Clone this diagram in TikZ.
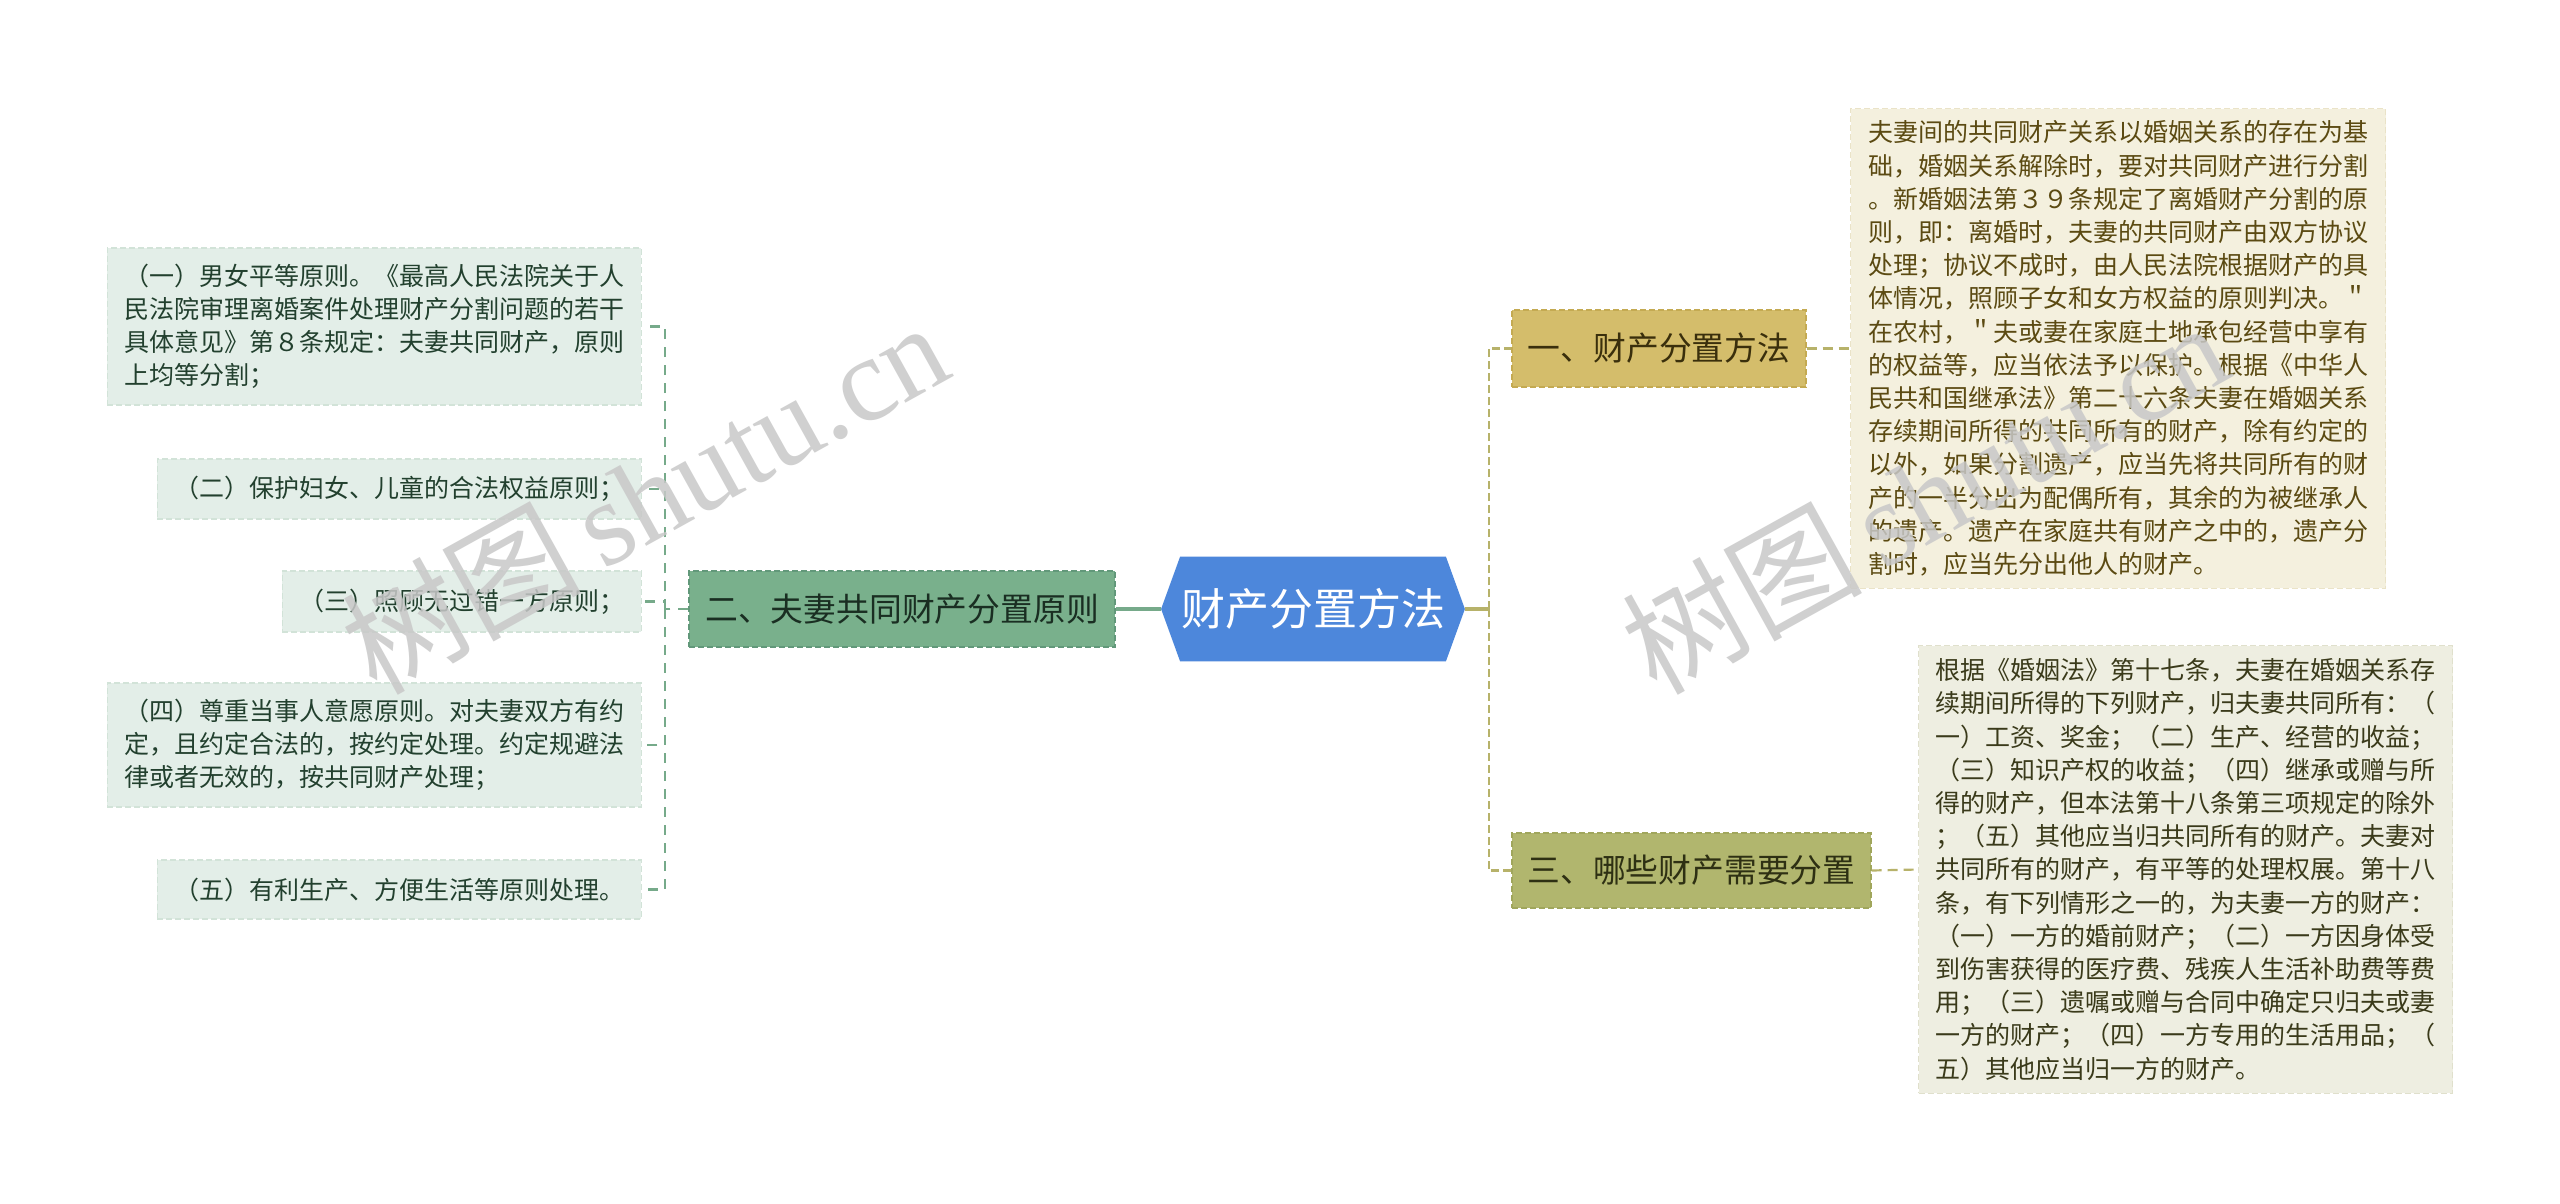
\documentclass[tikz,border=0pt]{standalone}
\usepackage{fontspec}
\setmainfont{Noto Sans CJK SC}
\newfontfamily\wmlatin{Liberation Serif}
\usetikzlibrary{calc}
\pgfdeclarelayer{bg}
\pgfsetlayers{bg,main}
\definecolor{rootfill}{HTML}{4D87DB}
\definecolor{gbfill}{HTML}{79B08C}
\definecolor{gbborder}{HTML}{62987A}
\definecolor{gbtext}{HTML}{1A2E22}
\definecolor{glfill}{HTML}{E3EEE8}
\definecolor{glborder}{HTML}{D2E3D8}
\definecolor{gltext}{HTML}{22402E}
\definecolor{gline}{HTML}{76AA8A}
\definecolor{yfill}{HTML}{D4BD6B}
\definecolor{yborder}{HTML}{C4AA52}
\definecolor{ytext}{HTML}{3A2F0C}
\definecolor{ofill}{HTML}{B1B66E}
\definecolor{oborder}{HTML}{A0A65C}
\definecolor{otext}{HTML}{2E3013}
\definecolor{rline}{HTML}{B7B26A}
\definecolor{lafill}{HTML}{F4F0DE}
\definecolor{laborder}{HTML}{EAE3C8}
\definecolor{latext}{HTML}{5B4A12}
\definecolor{lbfill}{HTML}{EEEEE1}
\definecolor{lbborder}{HTML}{E0E0CC}
\definecolor{lbtext}{HTML}{3A3A1A}
\definecolor{wmgray}{HTML}{C8C8C8}
\begin{document}
\begin{tikzpicture}[x=0.5pt,y=-0.5pt,
  leaffont/.style={font=\fontsize{12.5pt}{16.6pt}\selectfont},
  branchfont/.style={font=\fontsize{16.4pt}{19pt}\selectfont},
  gleaf/.style={leaffont, draw=glborder, fill=glfill, text=gltext,
    dash pattern=on 3pt off 1.5pt, line width=0.6pt,
    align=left, inner xsep=8.5pt, inner ysep=8pt, anchor=east},
  gbranch/.style={branchfont, draw=gbborder, fill=gbfill, text=gbtext,
    dash pattern=on 3pt off 1.5pt, line width=0.7pt, inner sep=0pt},
  ybranch/.style={branchfont, draw=yborder, fill=yfill, text=ytext,
    dash pattern=on 3pt off 1.5pt, line width=0.7pt, inner sep=0pt},
  obranch/.style={branchfont, draw=oborder, fill=ofill, text=otext,
    dash pattern=on 3pt off 1.5pt, line width=0.7pt, inner sep=0pt},
  aleaf/.style={leaffont, draw=laborder, fill=lafill, text=latext,
    dash pattern=on 3pt off 1.5pt, line width=0.6pt,
    align=left, inner xsep=8.75pt, inner ysep=6pt, anchor=west},
  bleaf/.style={leaffont, draw=lbborder, fill=lbfill, text=lbtext,
    dash pattern=on 3pt off 1.5pt, line width=0.6pt,
    align=left, inner xsep=8.5pt, inner ysep=6.5pt, anchor=west},
  gsolid/.style={draw=gline, line width=1.6pt},
  gdash/.style={draw=gline, line width=1.1pt, dash pattern=on 5pt off 4pt},
  rsolid/.style={draw=rline, line width=1.6pt},
  rdash/.style={draw=rline, line width=1.3pt, dash pattern=on 4pt off 2pt},
  rdashlong/.style={draw=rline, line width=1.1pt, dash pattern=on 5pt off 3pt},
  wm/.style={text=wmgray, text opacity=0.85, inner sep=0pt, rotate=29}
]
\begin{pgfonlayer}{bg}
\fill[white] (0,0) rectangle (2560,1204);
\end{pgfonlayer}
\useasboundingbox (0,0) rectangle (2560,1204);

% root
\node[font=\fontsize{22pt}{26pt}\selectfont, text=white, minimum width=151.5pt,
  minimum height=52pt, inner sep=0pt] (root) at (1313,609) {财产分置方法};
\begin{pgfonlayer}{bg}
\fill[rootfill] (root.west) -- ($(root.north west)+(19,0)$) -- ($(root.north east)+(-19,0)$)
  -- (root.east) -- ($(root.south east)+(-19,0)$) -- ($(root.south west)+(19,0)$) -- cycle;
\end{pgfonlayer}

% left branch
\node[gbranch, minimum width=213pt, minimum height=38pt] (b2) at (902,609) {二、夫妻共同财产分置原则};

% left leaves
\node[gleaf] (l1) at (642,326.5) {（一）男女平等原则。《最高人民法院关于人\\民法院审理离婚案件处理财产分割问题的若干\\具体意见》第８条规定：夫妻共同财产，原则\\上均等分割；};
\node[gleaf, minimum height=30pt] (l2) at (642,489) {（二）保护妇女、儿童的合法权益原则；};
\node[gleaf, minimum height=30.5pt] (l3) at (642,601.5) {（三）照顾无过错一方原则；};
\node[gleaf] (l4) at (642,745) {（四）尊重当事人意愿原则。对夫妻双方有约\\定，且约定合法的，按约定处理。约定规避法\\律或者无效的，按共同财产处理；};
\node[gleaf, minimum height=29.5pt] (l5) at (642,889.5) {（五）有利生产、方便生活等原则处理。};

% right branches
\node[ybranch, minimum width=147pt, minimum height=38.5pt] (b1) at (1659,348.5) {一、财产分置方法};
\node[obranch, minimum width=179.5pt, minimum height=37.5pt] (b3) at (1691.5,870.5) {三、哪些财产需要分置};

% right leaves
\node[aleaf] (la) at (1850,348.5) {夫妻间的共同财产关系以婚姻关系的存在为基\\础，婚姻关系解除时，要对共同财产进行分割\\。新婚姻法第３９条规定了离婚财产分割的原\\则，即：离婚时，夫妻的共同财产由双方协议\\处理；协议不成时，由人民法院根据财产的具\\体情况，照顾子女和女方权益的原则判决。＂\\在农村，＂夫或妻在家庭土地承包经营中享有\\的权益等，应当依法予以保护。根据《中华人\\民共和国继承法》第二十六条夫妻在婚姻关系\\存续期间所得的共同所有的财产，除有约定的\\以外，如果分割遗产，应当先将共同所有的财\\产的一半分出为配偶所有，其余的为被继承人\\的遗产。遗产在家庭共有财产之中的，遗产分\\割时，应当先分出他人的财产。};
\node[bleaf] (lb) at (1918,869.5) {根据《婚姻法》第十七条，夫妻在婚姻关系存\\续期间所得的下列财产，归夫妻共同所有：（\\一）工资、奖金；（二）生产、经营的收益；\\（三）知识产权的收益；（四）继承或赠与所\\得的财产，但本法第十八条第三项规定的除外\\；（五）其他应当归共同所有的财产。夫妻对\\共同所有的财产，有平等的处理权展。第十八\\条，有下列情形之一的，为夫妻一方的财产：\\（一）一方的婚前财产；（二）一方因身体受\\到伤害获得的医疗费、残疾人生活补助费等费\\用；（三）遗嘱或赠与合同中确定只归夫或妻\\一方的财产；（四）一方专用的生活用品；（\\五）其他应当归一方的财产。};

% connectors left
\draw[gsolid] (root.west) -- (b2.east);
\draw[gdash] (b2.west) -- ++(-23,0) coordinate (lj);
\draw[gdash] (lj) |- (l1.east);
\draw[gdash] (lj) |- (l2.east);
\draw[gdash] (lj) |- (l3.east);
\draw[gdash] (lj) |- (l4.east);
\draw[gdash] (lj) |- (l5.east);

% connectors right
\draw[rsolid] (root.east) -- ++(24,0) coordinate (rj);
\draw[rdash] (rj) |- (b1.west);
\draw[rdash] (rj) |- (b3.west);
\draw[rdashlong] (b1.east) -- (la.west);
\draw[rdashlong] (b3.east) -- (lb.west);

% watermarks
\node[wm] (wm1) at (644,496) {\fontsize{60pt}{60pt}\selectfont 树图{\wmlatin\,shutu.cn}};
\node[wm] (wm2) at (1924,496) {\fontsize{60pt}{60pt}\selectfont 树图{\wmlatin\,shutu.cn}};
\end{tikzpicture}
\end{document}
